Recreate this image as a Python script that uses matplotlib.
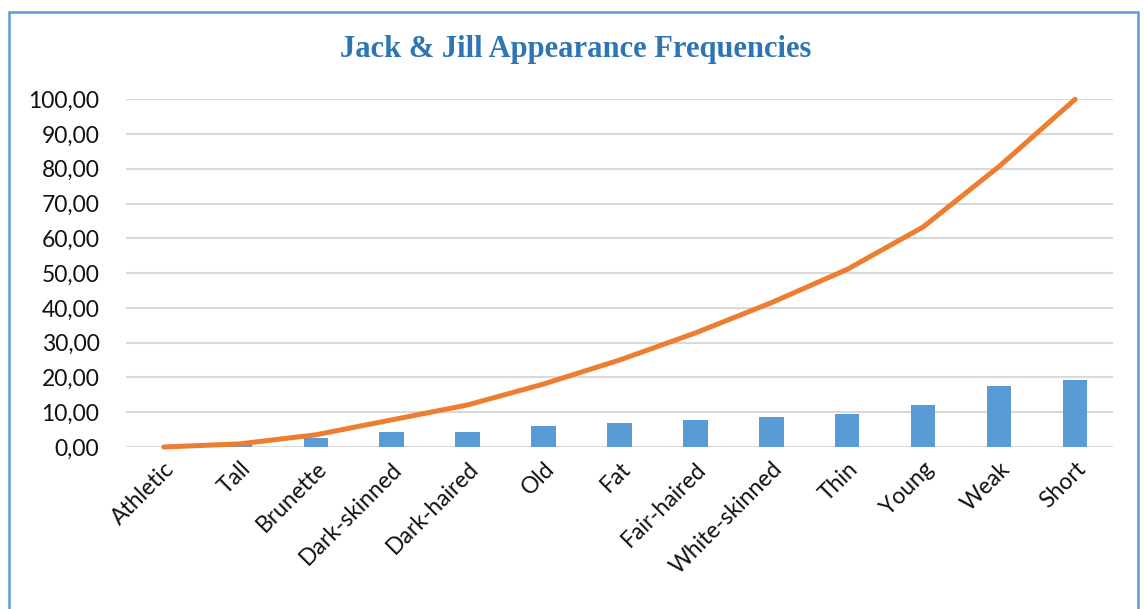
import numpy as np
import matplotlib.pyplot as plt
from matplotlib.patches import Rectangle
from matplotlib.ticker import FuncFormatter

# Appearance traits, sorted by frequency (%)
traits = ['Athletic', 'Tall', 'Brunette', 'Dark-skinned', 'Dark-haired', 'Old', 'Fat',
          'Fair-haired', 'White-skinned', 'Thin', 'Young', 'Weak', 'Short']
freq = [0.0, 0.9, 2.6, 4.3, 4.3, 6.0, 6.9, 7.8, 8.7, 9.6, 12.2, 17.4, 19.3]
cumulative = [0.0, 0.9, 3.5, 7.8, 12.1, 18.1, 25.0, 32.8, 41.5, 51.1, 63.3, 80.7, 100.0]

BAR_COLOR = '#5B9BD5'
LINE_COLOR = '#ED7D31'
TITLE_COLOR = '#2E75B6'

fig = plt.figure(figsize=(11.44, 6.09), dpi=100)
ax = fig.add_axes([0.110, 0.266, 0.863, 0.571])

x = np.arange(len(traits))
ax.bar(x, freq, width=0.32, color=BAR_COLOR, zorder=2)
ax.plot(x, cumulative, color=LINE_COLOR, linewidth=3.6, solid_capstyle='round',
        zorder=3, clip_on=False)

ax.set_xlim(-0.5, len(traits) - 0.5)
ax.set_ylim(0, 100)
ax.set_yticks(np.arange(0, 101, 10))
ax.yaxis.set_major_formatter(FuncFormatter(lambda v, _: f'{v:.2f}'.replace('.', ',')))
ax.set_xticks(x)
ax.set_xticklabels(traits, rotation=45, ha='right', rotation_mode='anchor')

for lbl in ax.get_xticklabels() + ax.get_yticklabels():
    lbl.set_fontfamily('Lato')
    lbl.set_fontsize(16.5)
    lbl.set_color('#111111')

ax.tick_params(axis='both', length=0)
ax.tick_params(axis='y', pad=19)
ax.tick_params(axis='x', pad=8)
ax.grid(axis='y', color='#D9D9D9', linewidth=1.5, zorder=0)
ax.set_axisbelow(True)
for s in ax.spines.values():
    s.set_visible(False)

fig.text(0.503, 0.918, 'Jack & Jill Appearance Frequencies', ha='center', va='center',
         fontsize=22, fontweight='bold', family='Liberation Serif', color=TITLE_COLOR)

# chart frame, open at the bottom edge of the image
fig.patches.append(Rectangle((0.008, -0.05), 0.987, 1.03, transform=fig.transFigure,
                             fill=False, edgecolor=BAR_COLOR, linewidth=1.8))

fig.savefig('out.png', dpi=100)
